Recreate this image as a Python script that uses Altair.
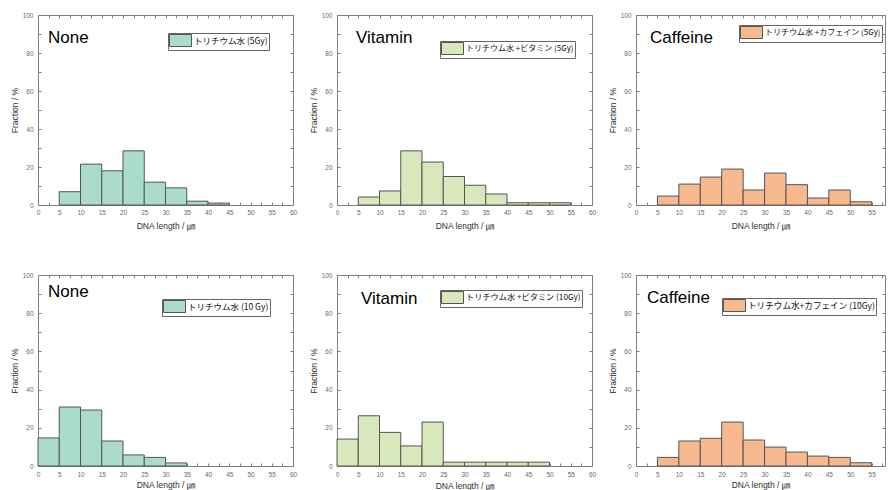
import altair as alt
import pandas as pd

BIN = 5

# ---- data ----
none5_start = [5, 10, 15, 20, 25, 30, 35, 40]
none5_pct = [7.0, 21.5, 18.0, 28.5, 12.0, 9.0, 2.0, 1.0]

vit5_start = [5, 10, 15, 20, 25, 30, 35, 40, 45, 50]
vit5_pct = [4.2, 7.4, 28.5, 22.6, 15.0, 10.4, 5.8, 1.2, 1.2, 1.2]

caf5_start = [5, 10, 15, 20, 25, 30, 35, 40, 45, 50]
caf5_pct = [4.7, 11.0, 14.7, 18.9, 7.9, 16.8, 10.7, 3.7, 7.9, 1.7]

none10_start = [0, 5, 10, 15, 20, 25, 30]
none10_pct = [14.7, 30.9, 29.3, 13.1, 5.8, 4.5, 1.6]

vit10_start = [0, 5, 10, 15, 20, 25, 30, 35, 40, 45]
vit10_pct = [14.1, 26.3, 17.6, 10.5, 23.0, 2.0, 2.0, 2.0, 2.0, 2.0]

caf10_start = [5, 10, 15, 20, 25, 30, 35, 40, 45, 50]
caf10_pct = [4.5, 13.1, 14.5, 23.0, 13.6, 9.9, 7.3, 5.2, 4.5, 1.7]

panel_titles = ["None", "Vitamin", "Caffeine", "None", "Vitamin", "Caffeine"]
legend_labels = [
    "トリチウム水 (5Gy)",
    "トリチウム水 +ビタミン (5Gy)",
    "トリチウム水 +カフェイン (5Gy)",
    "トリチウム水 (10 Gy)",
    "トリチウム水 +ビタミン (10Gy)",
    "トリチウム水+カフェイン (10Gy)",
]
x_titles = ["DNA length / ㎛", "DNA length / ㎛", "DNA length / ㎛",
            "DNA length /  ㎛", "DNA length / ㎛", "DNA length / ㎛"]
y_title = "Fraction / %"

X_TICKS = [0, 2.5, 5, 7.5, 10, 12.5, 15, 17.5, 20, 22.5, 25, 27.5, 30, 32.5,
           35, 37.5, 40, 42.5, 45, 47.5, 50, 52.5, 55, 57.5, 60]
Y_TICKS = [0, 10, 20, 30, 40, 50, 60, 70, 80, 90, 100]

TEAL = "#aadbcc"
GREEN = "#d8e8bc"
ORANGE = "#f8b98f"

series = [
    (none5_start, none5_pct, TEAL),
    (vit5_start, vit5_pct, GREEN),
    (caf5_start, caf5_pct, ORANGE),
    (none10_start, none10_pct, TEAL),
    (vit10_start, vit10_pct, GREEN),
    (caf10_start, caf10_pct, ORANGE),
]

# ---- layout (pixels, relative to each panel's plot area) ----
LAYOUT = [
    dict(w=255, h=190, xmax=60, lp=-10, ty=20, tx=10, tyy=28, lx=130, ly=18, lfs=8.5),
    dict(w=255, h=190, xmax=60, lp=-10, ty=20, tx=19, tyy=28, lx=103, ly=26, lfs=8),
    dict(w=249, h=190, xmax=58.1, lp=-10, ty=20, tx=14, tyy=28, lx=103, ly=10, lfs=8),
    dict(w=255, h=191, xmax=60, lp=-11, ty=18, tx=10, tyy=22, lx=124, ly=24, lfs=8.5),
    dict(w=255, h=191, xmax=60, lp=-11, ty=19, tx=24, tyy=29, lx=103, ly=15, lfs=8.2),
    dict(w=249, h=191, xmax=58.1, lp=-11, ty=18, tx=11, tyy=28, lx=86, ly=23, lfs=8.6),
]

SYMBOL = "M-1,-1H2.667V1H-1Z"


def make_panel(i):
    starts, pct, color = series[i]
    L = LAYOUT[i]
    w, h, xmax = L["w"], L["h"], L["xmax"]
    df = pd.DataFrame({
        "start": starts,
        "end": [s + BIN for s in starts],
        "pct": pct,
        "series": [legend_labels[i]] * len(starts),
    })
    xs = alt.Scale(domain=[0, xmax], nice=False, zero=False)
    ys = alt.Scale(domain=[0, 100], nice=False)
    xt = [v for v in X_TICKS if v <= xmax]

    ax_bottom = alt.Axis(
        orient="top", offset=-h, values=xt, tickSize=3,
        labelExpr="datum.value % 5 == 0 ? '' + datum.value : ''",
        labelPadding=L["lp"], labelBaseline="middle", labelAlign="center",
        labelFlush=False, labelOverlap=False,
        title=x_titles[i], titleY=L["ty"], titleBaseline="middle",
    )
    ax_left = alt.Axis(
        orient="right", offset=-w, values=Y_TICKS, tickSize=3,
        labelExpr="datum.value % 20 == 0 ? '' + datum.value : ''",
        labelPadding=-8, labelAlign="right", labelBaseline="middle",
        labelFlush=False, labelOverlap=False,
        title=y_title, titleAngle=270, titleX=-24, titleY=h / 2,
        titleBaseline="middle", titleAlign="center",
    )
    ax_top = alt.Axis(orient="bottom", offset=-h, values=xt, tickSize=3,
                      labels=False, title=None)
    ax_right = alt.Axis(orient="left", offset=-w, values=Y_TICKS, tickSize=3,
                        labels=False, title=None)

    bars = alt.Chart(df).mark_rect(stroke="#555555", strokeWidth=1).encode(
        x=alt.X("start:Q", scale=xs, axis=ax_bottom),
        x2="end:Q",
        y=alt.Y("pct:Q", scale=ys, axis=ax_left),
        y2=alt.datum(0),
        fill=alt.Fill(
            "series:N",
            scale=alt.Scale(range=[color]),
            legend=alt.Legend(
                title=None, orient="none", legendX=L["lx"], legendY=L["ly"],
                padding=1, strokeColor="#666666", fillColor="white",
                symbolType=SYMBOL, symbolSize=144, symbolStrokeColor="#555555",
                symbolStrokeWidth=1, symbolOpacity=1,
                labelOffset=12, labelFont="Noto Sans CJK JP",
                labelFontSize=L["lfs"], labelColor="#111111", labelLimit=400,
            ),
        ),
    )
    frame = alt.Chart(df).mark_point(opacity=0).encode(
        x=alt.X("start:Q", scale=xs, axis=ax_top),
        y=alt.Y("pct:Q", scale=ys, axis=ax_right),
    )
    label = alt.Chart(pd.DataFrame({"t": [panel_titles[i]]})).mark_text(
        align="left", baseline="alphabetic", font="Liberation Sans",
        fontSize=17, color="#000000",
    ).encode(text="t:N", x=alt.value(L["tx"]), y=alt.value(L["tyy"]))

    return alt.layer(bars, frame, label).resolve_axis(
        x="independent", y="independent"
    ).properties(width=w, height=h)


panels = [make_panel(i) for i in range(6)]

chart = alt.concat(
    *panels, columns=3, spacing={"row": 70, "column": 44}, bounds="flush"
).resolve_scale(
    x="independent", y="independent", fill="independent"
).resolve_legend(
    fill="independent"
).properties(
    padding={"left": 10, "top": 12, "right": 0, "bottom": 0}
).configure_view(
    stroke=None
).configure_axis(
    grid=False, domainColor="#808080", tickColor="#808080", domainWidth=1,
    tickWidth=1, labelColor="#6a6a6a", titleColor="#303030",
    labelFont="Liberation Sans", titleFont="Liberation Sans, Noto Sans CJK JP",
    labelFontSize=6.5, titleFontSize=8.5, titleFontWeight="normal",
)

chart.save("out.html", embed_options={"renderer": "svg", "actions": False})
